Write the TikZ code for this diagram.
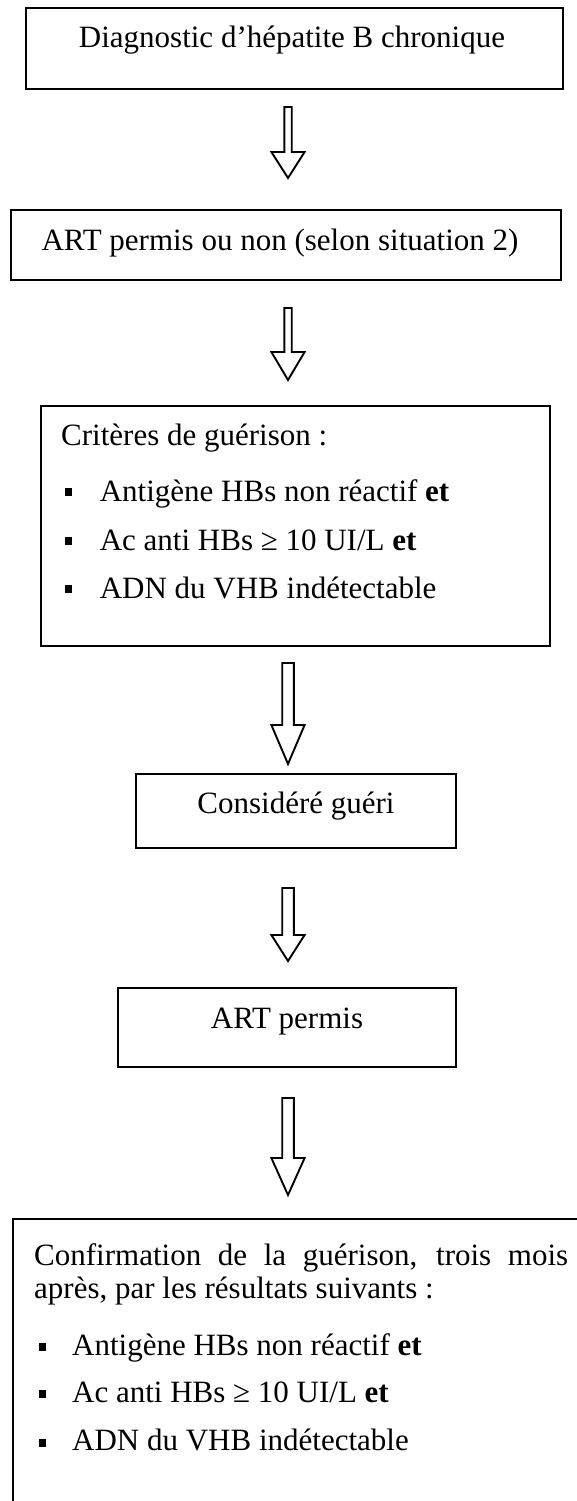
\documentclass[tikz,border=0pt]{standalone}
\usepackage{fontspec}
\setmainfont{Liberation Serif}
\newcommand{\blockarrowdraw}[6]{%
  \draw[blk] (#1-#5,#2) -- (#1+#5,#2) -- (#1+#5,#3) -- (#1+#6,#3) -- (#1,#4) -- (#1-#6,#3) -- (#1-#5,#3) -- cycle;}
\begin{document}
\begin{tikzpicture}[x=1pt,y=-1pt,
  box/.style={draw,line width=2.6pt,fill=white,inner sep=0pt},
  txt/.style={inner sep=0pt,font=\fontsize{31}{36}\selectfont},
  bul/.style={fill=black,minimum width=7pt,minimum height=8pt,inner sep=0pt},
  blk/.style={draw,line width=1.9pt,fill=white,line join=miter}]
\useasboundingbox (0,0) rectangle (577,1501);
\clip (0,0) rectangle (577,1501);
\fill[white] (0,0) rectangle (577,1501);

% boxes
\node[box,minimum width=537pt,minimum height=81pt] (b1) at (294.5,48.5) {};
\node[box,minimum width=550pt,minimum height=70pt] (b2) at (286,245) {};
\node[box,minimum width=509pt,minimum height=240pt] (b3) at (295.3,526) {};
\node[box,minimum width=320pt,minimum height=74pt] (b4) at (296,811) {};
\node[box,minimum width=338pt,minimum height=79pt] (b5) at (287,1027.5) {};
\node[box,minimum width=587pt,minimum height=311pt] (b6) at (306.5,1374.5) {};

% texts
\node[txt,anchor=base] (t1) at (292,48) {Diagnostic d’hépatite B chronique};
\node[txt,anchor=base] (t2) at (280,250) {ART permis ou non (selon situation 2)};

\node[txt,anchor=base west] (t3) at (61,445) {Critères de guérison :};
\node[bul] (q31) at (68,492) {};
\node[txt,anchor=base west] (t31) at (99.6,501) {Antigène HBs non réactif \textbf{et}};
\node[bul] (q32) at (68,540.5) {};
\node[txt,anchor=base west] (t32) at (99.6,550) {Ac anti HBs ≥ 10 UI/L \textbf{et}};
\node[bul] (q33) at (68,589) {};
\node[txt,anchor=base west] (t33) at (99.6,598) {ADN du VHB indétectable};

\node[txt,anchor=base] (t4) at (296,813) {Considéré guéri};
\node[txt,anchor=base] (t5) at (287,1028) {ART permis};

\node[txt,anchor=base west] (t6) at (34,1265) {\makebox[534pt][s]{Confirmation de la guérison, trois mois}};
\node[txt,anchor=base west] (t6b) at (34,1298) {après, par les résultats suivants :};
\node[bul] (q61) at (42,1346.5) {};
\node[txt,anchor=base west] (t61) at (72,1355) {Antigène HBs non réactif \textbf{et}};
\node[bul] (q62) at (42,1394) {};
\node[txt,anchor=base west] (t62) at (72,1402) {Ac anti HBs ≥ 10 UI/L \textbf{et}};
\node[bul] (q63) at (42,1442.5) {};
\node[txt,anchor=base west] (t63) at (72,1450) {ADN du VHB indétectable};

% block arrows
\blockarrowdraw{288}{107}{152}{178}{3.7}{16.6}
\blockarrowdraw{288}{308}{352}{380}{3.7}{16.6}
\blockarrowdraw{288}{663}{725}{764}{5.8}{16.6}
\blockarrowdraw{288}{888}{935}{961}{5.8}{16.6}
\blockarrowdraw{288}{1098}{1158}{1195}{5.8}{16.6}
\end{tikzpicture}
\end{document}
